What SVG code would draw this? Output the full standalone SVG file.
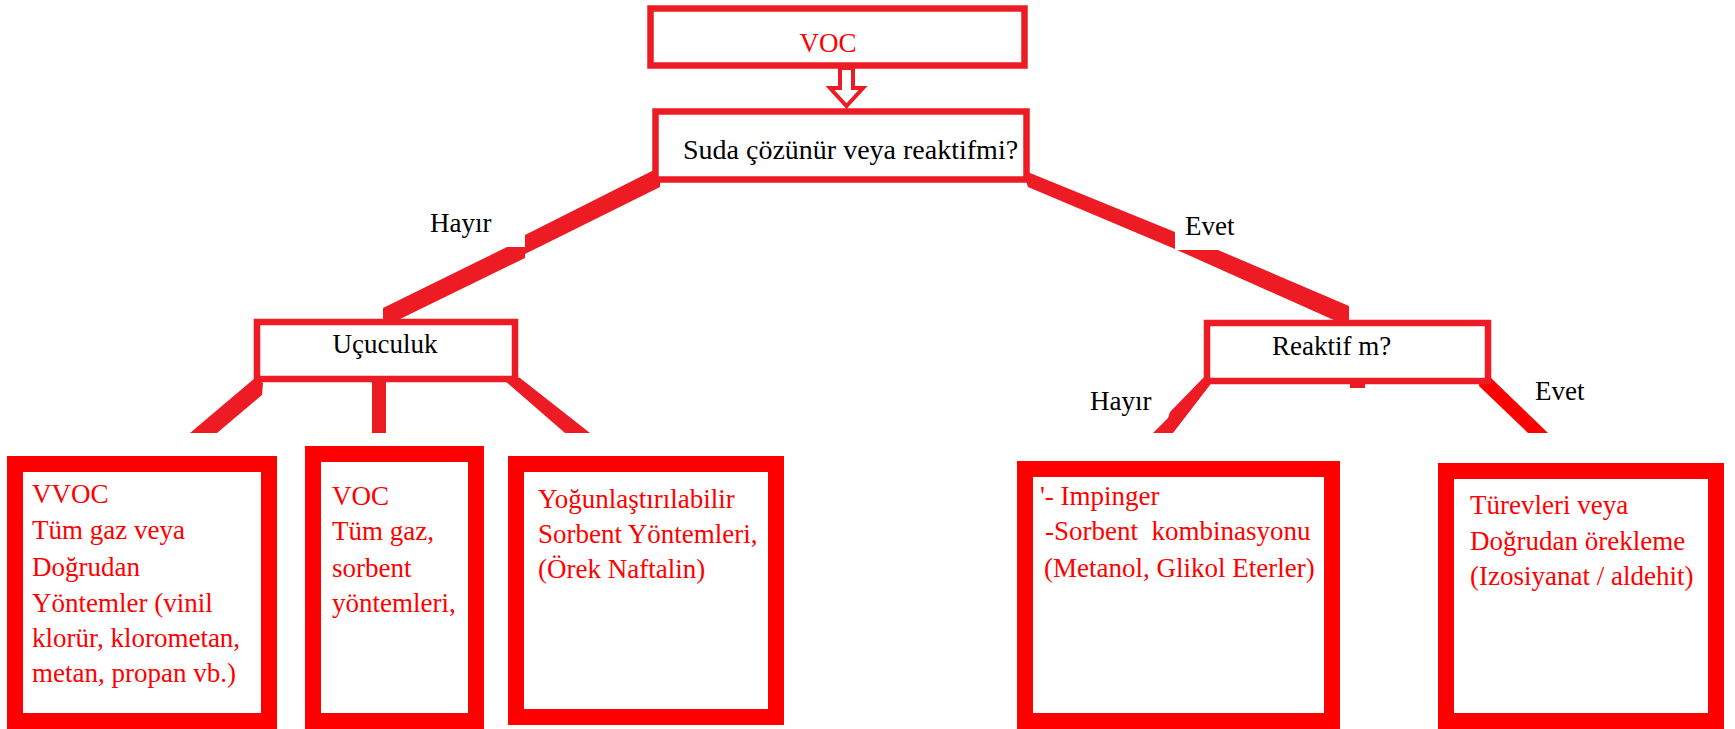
<svg xmlns="http://www.w3.org/2000/svg" width="1735" height="729" viewBox="0 0 1735 729">
<style>
.bg{fill:#ffffff}
.hdr{fill:#ffffff;stroke:#ED1C24;stroke-width:6.5}
.leaf{fill:#ffffff;stroke:#FF0000;stroke-width:16}
.con{fill:#ED1C24;stroke:none}
.conr{fill:#FF0000;stroke:none}
.lbl{font-family:"Liberation Serif","Times New Roman",serif;font-size:27px;fill:#000000}
.red{font-family:"Liberation Serif","Times New Roman",serif;font-size:27px;fill:#FF0000}
</style>
<rect class="bg" x="0" y="0" width="1735" height="729"/>
<g id="connectors">
  <polygon points="840,68 853,68 853,88 863,88 846.5,106 830,88 840,88" fill="#ffffff" stroke="#ED1C24" stroke-width="4"/>
  <polygon class="con" points="652,171 660,171 660,187 525,254 525,235"/>
  <polygon class="con" points="383,308 507,247 525,247 525,258 398,320 383,320"/>
  <polygon class="con" points="1022,169 1030,173 1175,232 1175,249 1028,187"/>
  <polygon class="con" points="1177,250 1218,250 1349,306 1349,321 1336,321"/>
  <polygon class="con" points="190,433 255,378 263,383 262,395 217,433"/>
  <rect class="con" x="372" y="382" width="14" height="51"/>
  <polygon class="con" points="505,381 511,375 520,378 590,433 565,433"/>
  <polygon class="con" points="1205,376 1213,381 1173,433 1153,433 1168,418 1170,412"/>
  <rect class="con" x="1350" y="382" width="15" height="6"/>
  <polygon class="conr" points="1480,378 1489,376 1548,433 1528,433 1479,386"/>
  <text class="lbl" x="430" y="232">Hayır</text>
  <text class="lbl" x="1185" y="235">Evet</text>
  <text class="lbl" x="1090" y="410">Hayır</text>
  <text class="lbl" x="1535" y="400">Evet</text>
</g>
<g id="node-voc">
  <rect class="hdr" x="650.5" y="8.5" width="374" height="57"/>
  <text class="red" x="828" y="52" text-anchor="middle">VOC</text>
</g>
<g id="node-suda">
  <rect class="hdr" x="655.5" y="111.5" width="371" height="68"/>
  <text class="lbl" x="683" y="159" style="font-size:28px">Suda çözünür veya reaktifmi?</text>
</g>
<g id="node-ucuculuk">
  <rect class="hdr" x="257" y="322" width="258" height="57"/>
  <text class="lbl" x="385" y="353" text-anchor="middle">Uçuculuk</text>
</g>
<g id="node-reaktif">
  <rect class="hdr" x="1207" y="323" width="281" height="58"/>
  <text class="lbl" x="1272" y="355">Reaktif m?</text>
</g>
<g id="node-vvoc">
  <rect class="leaf" x="15" y="464" width="254" height="257"/>
  <text class="red" x="32" y="503">VVOC</text>
  <text class="red" x="32" y="539">Tüm gaz veya</text>
  <text class="red" x="32" y="576">Doğrudan</text>
  <text class="red" x="32" y="612">Yöntemler (vinil</text>
  <text class="red" x="32" y="647">klorür, klorometan,</text>
  <text class="red" x="32" y="682">metan, propan vb.)</text>
</g>
<g id="node-voc2">
  <rect class="leaf" x="313" y="454" width="163" height="267"/>
  <text class="red" x="332" y="505">VOC</text>
  <text class="red" x="332" y="540">Tüm gaz,</text>
  <text class="red" x="332" y="577">sorbent</text>
  <text class="red" x="332" y="612">yöntemleri,</text>
</g>
<g id="node-yogun">
  <rect class="leaf" x="516" y="464" width="260" height="253"/>
  <text class="red" x="538" y="508">Yoğunlaştırılabilir</text>
  <text class="red" x="538" y="543">Sorbent Yöntemleri,</text>
  <text class="red" x="538" y="578">(Örek Naftalin)</text>
</g>
<g id="node-impinger">
  <rect class="leaf" x="1025" y="469" width="307" height="252"/>
  <text class="red" x="1040" y="505">'- Impinger</text>
  <text class="red" x="1045" y="540" xml:space="preserve">-Sorbent  kombinasyonu</text>
  <text class="red" x="1044" y="577">(Metanol, Glikol Eterler)</text>
</g>
<g id="node-turev">
  <rect class="leaf" x="1446" y="471" width="270" height="250"/>
  <text class="red" x="1470" y="514">Türevleri veya</text>
  <text class="red" x="1470" y="550">Doğrudan örekleme</text>
  <text class="red" x="1470" y="585">(Izosiyanat / aldehit)</text>
</g>
</svg>
